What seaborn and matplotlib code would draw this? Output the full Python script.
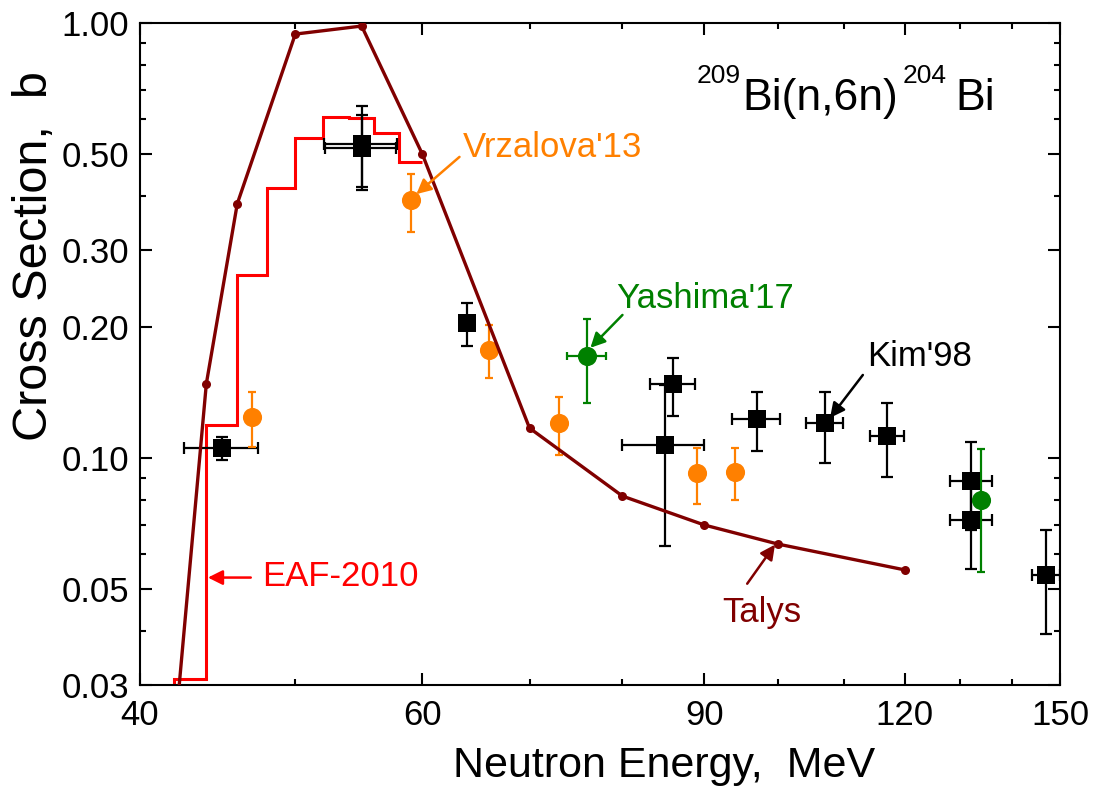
import numpy as np
import pandas as pd
import matplotlib
matplotlib.use("Agg")
import matplotlib.pyplot as plt
from matplotlib.ticker import FixedLocator, FixedFormatter, NullFormatter
import seaborn as sns

# ---------------- data ----------------
# Talys calculation
talys_E = [42, 44, 46, 50, 55, 60, 70, 80, 90, 100, 120]
talys_xs = [0.022, 0.148, 0.384, 0.943, 0.984, 0.50, 0.117, 0.0816, 0.070, 0.0633, 0.0552]

# EAF-2010 group-wise (2 MeV bins)
eaf_edges = [40, 42, 44, 46, 48, 50, 52, 54, 56, 58, 60]
eaf_xs = [0.001, 0.031, 0.119, 0.263, 0.417, 0.544, 0.608, 0.603, 0.558, 0.479]

# Kim'98
kim_E = [45, 55, 55, 64, 85, 86, 97, 107, 117, 132, 132, 147]
kim_xs = [0.105, 0.527, 0.516, 0.204, 0.107, 0.148, 0.1228, 0.120, 0.1124, 0.0886, 0.0719, 0.0538]
kim_lo = [0.0988, 0.413, 0.420, 0.181, 0.0626, 0.125, 0.1036, 0.097, 0.0901, 0.0683, 0.0554, 0.0394]
kim_hi = [0.1117, 0.644, 0.614, 0.227, 0.147, 0.1697, 0.1419, 0.142, 0.1339, 0.1085, 0.088, 0.0683]
kim_dE = [2.4, 2.9, 2.8, 0.0, 5.0, 2.8, 3.3, 2.9, 2.9, 4.0, 4.0, 3.0]

# Vrzalova'13
vrz_E = [47, 59, 66, 73, 89, 94]
vrz_xs = [0.124, 0.391, 0.177, 0.120, 0.0922, 0.0925]
vrz_lo = [0.1058, 0.330, 0.1527, 0.1017, 0.0782, 0.080]
vrz_hi = [0.142, 0.449, 0.2022, 0.1379, 0.1054, 0.1054]

# Yashima'17
yas_E = [76, 134]
yas_xs = [0.171, 0.080]
yas_lo = [0.1339, 0.0547]
yas_hi = [0.2085, 0.1047]
yas_dE = [2.1, 0.0]

x_major = [40, 60, 90, 120, 150]
x_minor = [50, 70, 80, 100, 110, 130, 140]
y_major = [0.03, 0.05, 0.10, 0.20, 0.30, 0.50, 1.00]
y_major_labels = ["0.03", "0.05", "0.10", "0.20", "0.30", "0.50", "1.00"]
y_minor = [0.04, 0.06, 0.07, 0.08, 0.09, 0.4, 0.6, 0.7, 0.8, 0.9]

# ---------------- style ----------------
sns.set_theme(style="ticks")
plt.rcParams['font.family'] = ['Liberation Sans', 'DejaVu Sans']
plt.rcParams['axes.linewidth'] = 1.5

C_TALYS = "#800000"
C_EAF = "#FF0000"
C_VRZ = "#FF8000"
C_YAS = "#008000"
C_KIM = "#000000"

fig = plt.figure(figsize=(10.96, 7.96), dpi=100)
W, H = 1096, 796
ax = fig.add_axes([140 / W, 1 - 685 / H, 920 / W, 662 / H])
ax.set_xscale("log")
ax.set_yscale("log")

# EAF-2010 histogram
ax.stairs(eaf_xs, eaf_edges, baseline=None, color=C_EAF, lw=2.2, zorder=2)

# Kim'98
kim = pd.DataFrame(dict(E=kim_E, xs=kim_xs))
ax.errorbar(kim_E, kim_xs,
            yerr=[np.array(kim_xs) - np.array(kim_lo), np.array(kim_hi) - np.array(kim_xs)],
            xerr=kim_dE, fmt="none", ecolor=C_KIM, elinewidth=1.6, capsize=4, capthick=1.6, zorder=3)
sns.scatterplot(data=kim, x="E", y="xs", marker="s", s=150, color=C_KIM, edgecolor=C_KIM,
                linewidth=0, ax=ax, zorder=4)

# Vrzalova'13
vrz = pd.DataFrame(dict(E=vrz_E, xs=vrz_xs))
ax.errorbar(vrz_E, vrz_xs,
            yerr=[np.array(vrz_xs) - np.array(vrz_lo), np.array(vrz_hi) - np.array(vrz_xs)],
            fmt="none", ecolor=C_VRZ, elinewidth=1.6, capsize=3, capthick=1.6, zorder=3)
sns.scatterplot(data=vrz, x="E", y="xs", marker="o", s=190, color=C_VRZ, edgecolor=C_VRZ,
                linewidth=0, ax=ax, zorder=4)

# Yashima'17
yas = pd.DataFrame(dict(E=yas_E, xs=yas_xs))
ax.errorbar(yas_E, yas_xs,
            yerr=[np.array(yas_xs) - np.array(yas_lo), np.array(yas_hi) - np.array(yas_xs)],
            xerr=yas_dE, fmt="none", ecolor=C_YAS, elinewidth=1.6, capsize=3, capthick=1.6, zorder=3)
sns.scatterplot(data=yas, x="E", y="xs", marker="o", s=190, color=C_YAS, edgecolor=C_YAS,
                linewidth=0, ax=ax, zorder=4)

# Talys
tal = pd.DataFrame(dict(E=talys_E, xs=talys_xs))
sns.lineplot(data=tal, x="E", y="xs", color=C_TALYS, lw=2.4, marker="o", markersize=6.5,
             markeredgewidth=0, estimator=None, sort=False, ax=ax, zorder=5)

ax.set_xlim(40, 150)
ax.set_ylim(0.03, 1.0)

# ticks
ax.xaxis.set_major_locator(FixedLocator(x_major))
ax.xaxis.set_major_formatter(FixedFormatter([str(v) for v in x_major]))
ax.xaxis.set_minor_locator(FixedLocator(x_minor))
ax.xaxis.set_minor_formatter(NullFormatter())
ax.yaxis.set_major_locator(FixedLocator(y_major))
ax.yaxis.set_major_formatter(FixedFormatter(y_major_labels))
ax.yaxis.set_minor_locator(FixedLocator(y_minor))
ax.yaxis.set_minor_formatter(NullFormatter())
ax.tick_params(which="both", direction="in", top=True, right=True, colors="black",
               width=1.5, labelsize=25, pad=8)
ax.tick_params(axis="x", which="both", pad=10)
ax.tick_params(which="major", length=8.5)
ax.tick_params(which="minor", length=4.5)
for sp in ax.spines.values():
    sp.set_visible(True)
    sp.set_color("black")
    sp.set_linewidth(1.5)
ax.grid(False)

ax.set_xlabel("Neutron Energy,  MeV", fontsize=31, color="black")
ax.set_ylabel("Cross Section,  b", fontsize=35, color="black")
ax.xaxis.set_label_coords((664 - 140) / 920, (685 - 746) / 662)
ax.yaxis.set_label_coords((57 - 140) / 920, (685 - 256) / 662)

# annotations
def arrow(tail, tip, color):
    ax.annotate("", xy=tip, xytext=tail,
                arrowprops=dict(arrowstyle="-|>", color=color, lw=1.8, mutation_scale=22,
                                shrinkA=0, shrinkB=0), zorder=6)

ax.text(63.6, 0.518, "Vrzalova'13", color=C_VRZ, fontsize=25, ha="left", va="center")
arrow((63.3, 0.492), (59.5, 0.404), C_VRZ)
ax.text(79.3, 0.233, "Yashima'17", color=C_YAS, fontsize=25, ha="left", va="center")
arrow((80.0, 0.213), (76.4, 0.179), C_YAS)
ax.text(113.7, 0.171, "Kim'98", color=C_KIM, fontsize=25, ha="left", va="center")
arrow((113.0, 0.155), (107.8, 0.1235), C_KIM)
ax.text(97.8, 0.0441, "Talys", color=C_TALYS, fontsize=25, ha="center", va="center")
arrow((95.7, 0.0513), (99.6, 0.0631), C_TALYS)
ax.text(47.7, 0.0533, "EAF-2010", color=C_EAF, fontsize=25, ha="left", va="center")
arrow((46.9, 0.0530), (44.1, 0.0530), C_EAF)

# reaction title
def fpx(px, py):
    return px / W, 1 - py / H

fig.text(*fpx(697, 83), "209", fontsize=19, ha="left", va="baseline", color="black")
fig.text(*fpx(742, 110), "Bi(n,6n)", fontsize=32, ha="left", va="baseline", color="black")
fig.text(*fpx(903, 83), "204", fontsize=19, ha="left", va="baseline", color="black")
fig.text(*fpx(955, 110), "Bi", fontsize=32, ha="left", va="baseline", color="black")

fig.savefig("out.png", dpi=100, facecolor="white")
